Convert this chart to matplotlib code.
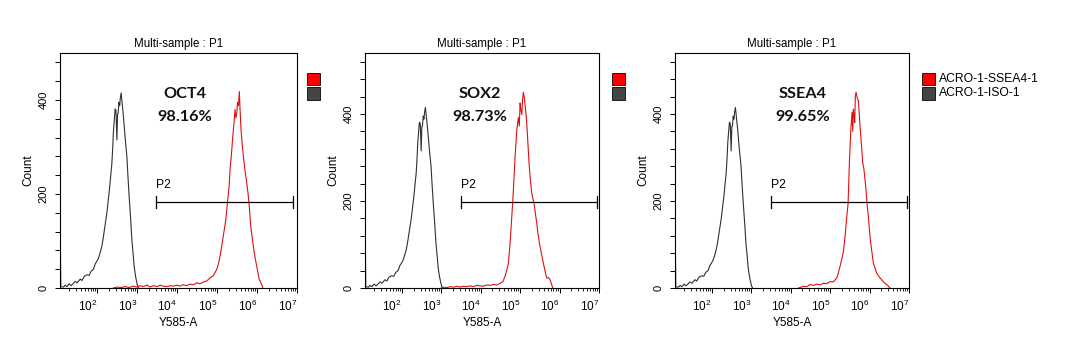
import matplotlib
matplotlib.use('Agg')
import matplotlib.pyplot as plt
from matplotlib.patches import Rectangle
from matplotlib.ticker import FixedLocator, LogLocator, MultipleLocator, NullFormatter
import numpy as np

plt.rcParams['font.family'] = ['Liberation Sans', 'DejaVu Sans']
plt.rcParams['mathtext.fontset'] = 'custom'
plt.rcParams['mathtext.rm'] = 'Liberation Sans'

# ---- data (x as log10 intensity, y as count) ----
iso_logx = [1.072, 1.072, 1.09, 1.16, 1.20, 1.243, 1.30, 1.35, 1.408, 1.45,
            1.50, 1.575, 1.62, 1.68, 1.743, 1.80, 1.85, 1.908, 1.95, 1.993,
            2.03, 2.075, 2.12, 2.158, 2.20, 2.243, 2.275, 2.308, 2.34, 2.368,
            2.39, 2.408, 2.43, 2.45, 2.47, 2.493, 2.51, 2.525, 2.545, 2.563,
            2.58, 2.60, 2.62, 2.658, 2.70, 2.743, 2.77, 2.80, 2.835, 2.868,
            2.90, 2.925, 2.96, 2.993, 3.01, 3.033]
iso_count = [0, 160, 3, 2, 6, 3, 9, 5, 10, 14,
             11, 19, 16, 25, 28, 27, 36, 40, 51, 57,
             63, 75, 90, 110, 135, 160, 185, 210, 240, 265,
             300, 335, 360, 381, 378, 315, 370, 372, 395, 388,
             404, 415, 398, 364, 320, 280, 238, 195, 150, 103,
             72, 46, 25, 11, 5, 0]

oct4_logx = [2.40, 2.50, 2.60, 2.70, 2.80, 2.90, 3.00, 3.075, 3.15, 3.25,
             3.325, 3.40, 3.50, 3.575, 3.65, 3.75, 3.825, 3.90, 4.00, 4.075,
             4.15, 4.243, 4.32, 4.408, 4.49, 4.575, 4.66, 4.743, 4.83, 4.908,
             4.993, 5.035, 5.075, 5.118, 5.158, 5.218, 5.268, 5.30, 5.325, 5.36,
             5.393, 5.425, 5.45, 5.47, 5.493, 5.513, 5.535, 5.558, 5.575, 5.60,
             5.63, 5.658, 5.70, 5.743, 5.77, 5.80, 5.843, 5.875, 5.908, 5.95,
             5.993, 6.03, 6.058, 6.09, 6.118, 6.143]
oct4_count = [0, 2, 1, 3, 1, 4, 2, 5, 3, 6,
              2, 5, 3, 6, 4, 3, 5, 4, 6, 4,
              7, 5, 8, 7, 11, 9, 13, 15, 22, 26,
              40, 52, 68, 90, 112, 145, 188, 215, 252, 285,
              322, 352, 380, 362, 372, 395, 388, 418, 380, 336,
              305, 280, 250, 223, 205, 180, 131, 110, 88, 65,
              46, 30, 18, 12, 7, 0]

sox2_logx = [3.00, 3.06, 3.15, 3.23, 3.32, 3.40, 3.48, 3.565, 3.65, 3.73,
             3.82, 3.90, 3.987, 4.07, 4.15, 4.24, 4.324, 4.41, 4.494, 4.56,
             4.62, 4.66, 4.704, 4.747, 4.79, 4.831, 4.873, 4.916, 4.94, 4.957,
             4.98, 5.0, 5.02, 5.043, 5.065, 5.084, 5.105, 5.127, 5.15, 5.17,
             5.2, 5.228, 5.26, 5.296, 5.325, 5.354, 5.39, 5.423, 5.46, 5.506,
             5.55, 5.59, 5.63, 5.676, 5.72, 5.76, 5.80, 5.828]
sox2_count = [0, 2, 1, 3, 2, 4, 2, 4, 3, 5,
              3, 6, 5, 4, 7, 6, 8, 7, 11, 14,
              27, 40, 57, 103, 164, 225, 301, 362, 380, 392,
              372, 425, 410, 398, 435, 450, 438, 420, 400, 377,
              330, 286, 250, 217, 205, 194, 170, 149, 120, 95,
              75, 57, 40, 23, 24, 19, 8, 0]

ssea4_logx = [4.20, 4.324, 4.41, 4.494, 4.58, 4.663, 4.75, 4.83, 4.92, 5.0,
              5.08, 5.17, 5.21, 5.253, 5.30, 5.337, 5.38, 5.423, 5.456, 5.489,
              5.524, 5.557, 5.575, 5.59, 5.61, 5.625, 5.64, 5.658, 5.685, 5.716,
              5.74, 5.76, 5.795, 5.828, 5.845, 5.861, 5.911, 5.94, 5.97, 6.0,
              6.03, 6.097, 6.14, 6.182, 6.25, 6.309, 6.37, 6.435, 6.48, 6.519]
ssea4_count = [0, 4, 3, 8, 6, 9, 7, 11, 10, 15,
               14, 23, 35, 50, 68, 84, 118, 164, 194, 286,
               362, 404, 360, 411, 395, 380, 440, 450, 438, 430,
               400, 370, 330, 286, 280, 271, 225, 190, 164, 130,
               103, 57, 45, 34, 25, 19, 12, 8, 4, 0]

markers = ['OCT4', 'SOX2', 'SSEA4']
percents = ['98.16%', '98.73%', '99.65%']
pos_logx = [oct4_logx, sox2_logx, ssea4_logx]
pos_count = [oct4_count, sox2_count, ssea4_count]
ymax = [500, 540, 540]
gate_lo = [3.47, 3.50, 3.50]
gate_hi = [6.89, 6.96, 6.96]
legend_labels = ['ACRO-1-SSEA4-1', 'ACRO-1-ISO-1']

# ---- layout (pixels) ----
W, H = 1070, 351
lefts = [60, 365, 675]
widths = [237, 234, 234]
top_px, h_px = 53, 235
text_x = [0.526, 0.491, 0.545]
leg_x = [307, 612, 922]

red = '#e01010'
iso_col = '#303030'
big_font = ['Lato', 'DejaVu Sans']

fig = plt.figure(figsize=(W / 100, H / 100), dpi=100)

for i in range(3):
    ax = fig.add_axes([lefts[i] / W, (H - top_px - h_px) / H, widths[i] / W, h_px / H])
    ax.set_xscale('log')
    ax.plot(10 ** np.array(iso_logx), iso_count, color=iso_col, lw=0.8)
    ax.plot(10 ** np.array(pos_logx[i]), pos_count[i], color=red, lw=0.8)
    ax.set_xlim(10 ** 1.07, 10 ** 7)
    ax.set_ylim(0, ymax[i])

    for s in ax.spines.values():
        s.set_linewidth(0.8)
        s.set_color('black')

    # x axis: decades labelled, minor log ticks
    ax.xaxis.set_major_locator(FixedLocator([10.0 ** k for k in range(2, 8)]))
    ax.xaxis.set_minor_locator(LogLocator(base=10, subs=np.arange(2, 10), numticks=100))
    ax.xaxis.set_minor_formatter(NullFormatter())
    ax.set_xticklabels([r'$\mathregular{10^{%d}}$' % k for k in range(2, 8)], ha='right')
    ax.tick_params(axis='x', which='major', direction='out', length=3.5, width=0.7, pad=4.5, labelsize=8.5)
    ax.tick_params(axis='x', which='minor', direction='out', length=2.5, width=0.6)

    # y axis: ticks every 40, labels at 0/200/400 rotated
    ax.yaxis.set_major_locator(FixedLocator([0, 200, 400]))
    ax.yaxis.set_minor_locator(MultipleLocator(40))
    ax.set_yticklabels(['0', '200', '400'], rotation=90, va='center')
    ax.tick_params(axis='y', which='both', direction='out', length=3.6, width=0.7, pad=4.5, labelsize=8)

    ax.text(0.5, 1 + 5.5 / h_px, 'Multi-sample : P1', transform=ax.transAxes,
            ha='center', va='baseline', fontsize=8.3)
    ax.text(-32 / widths[i], 0.5, 'Count', transform=ax.transAxes, rotation=90,
            ha='center', va='center', fontsize=8.5)
    ax.text(0.5, -34.5 / h_px, 'Y585-A', transform=ax.transAxes,
            ha='center', va='center', fontsize=8.5)

    ax.text(text_x[i], 0.81, markers[i], transform=ax.transAxes, ha='center', va='baseline',
            fontsize=11.7, fontweight='bold', family=big_font, color='#111111')
    ax.text(text_x[i], 0.712, percents[i], transform=ax.transAxes, ha='center', va='baseline',
            fontsize=11.7, fontweight='bold', family=big_font, color='#111111')

    # P2 gate
    tr = ax.get_xaxis_transform()
    gy = 0.365
    ax.plot([10 ** gate_lo[i], 10 ** gate_hi[i]], [gy, gy], transform=tr, color='black', lw=0.9)
    for gx in (gate_lo[i], gate_hi[i]):
        ax.plot([10 ** gx, 10 ** gx], [gy - 0.026, gy + 0.026], transform=tr, color='black', lw=0.9)
    ax.text(10 ** gate_lo[i], 0.424, 'P2', transform=tr, ha='left', va='baseline', fontsize=8.7)

    # legend keys
    for j, fc in enumerate(['#ff0000', '#454545']):
        y0 = 72.5 + j * 14.5
        fig.add_artist(Rectangle((leg_x[i] / W, 1 - (y0 + 12.5) / H), 12.5 / W, 12.5 / H,
                                 transform=fig.transFigure, facecolor=fc,
                                 edgecolor='#1a1a1a', lw=0.7))
        if i == 2:
            fig.text((leg_x[i] + 17) / W, 1 - (y0 + 6.5) / H, legend_labels[j],
                     ha='left', va='center', fontsize=8.7)

fig.savefig('out.png', dpi=100)
